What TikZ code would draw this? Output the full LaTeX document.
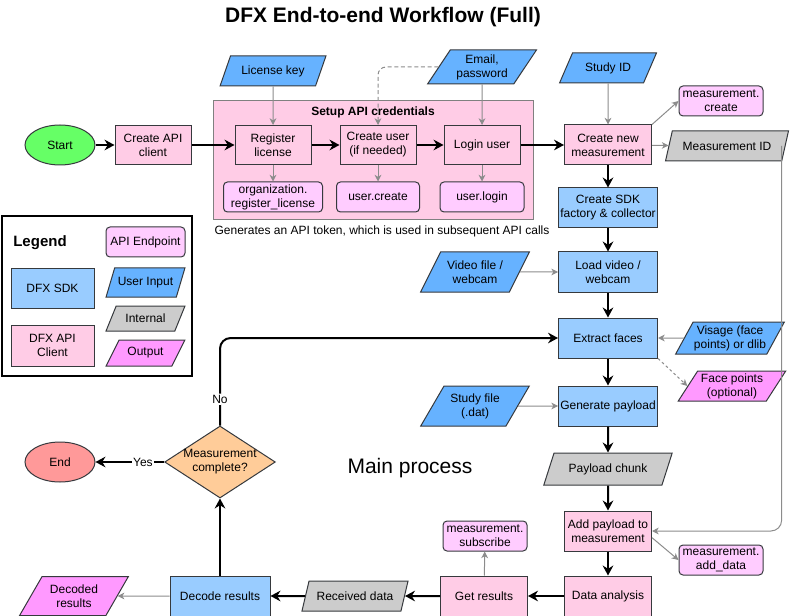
\documentclass[tikz,border=0pt]{standalone}
\usepackage{fontspec}
\setmainfont{Liberation Sans}
\usetikzlibrary{shapes.geometric,arrows.meta}

\definecolor{clientpink}{HTML}{FFCCE6}
\definecolor{endpointpink}{HTML}{FFCCFF}
\definecolor{sdkblue}{HTML}{99CCFF}
\definecolor{inputblue}{HTML}{66B2FF}
\definecolor{internalgray}{HTML}{CCCCCC}
\definecolor{outputmagenta}{HTML}{FF99FF}
\definecolor{startgreen}{HTML}{66FF66}
\definecolor{endred}{HTML}{FF9999}
\definecolor{decisionorange}{HTML}{FFCC99}
\definecolor{edgegray}{HTML}{36393D}
\definecolor{linkgray}{HTML}{8C8C8C}

\tikzset{
  base/.style={draw=edgegray, line width=0.75pt, font=\fontsize{9}{10.5}\selectfont, align=center, inner sep=1pt},
  client/.style={base, rectangle, fill=clientpink, minimum width=57pt, minimum height=29.25pt},
  sdk/.style={base, rectangle, fill=sdkblue, minimum width=74.25pt, minimum height=30pt},
  endpoint/.style={base, rectangle, rounded corners=3pt, fill=endpointpink, minimum width=63pt, minimum height=22.5pt},
  datashape/.style={base, trapezium, trapezium left angle=60, trapezium right angle=120, trapezium stretches=true,
    inner xsep=-4pt, inner ysep=0pt, minimum width=81.75pt, minimum height=22.5pt},
  inputdata/.style={datashape, fill=inputblue},
  internaldata/.style={datashape, fill=internalgray},
  outputdata/.style={datashape, fill=outputmagenta},
  terminal/.style={base, ellipse, minimum width=52.5pt, minimum height=30pt},
  flow/.style={line width=1.5pt, -{Stealth[length=7.5pt,width=8pt,inset=2.5pt]}},
  link/.style={draw=linkgray, line width=0.75pt, -{Stealth[length=5pt,width=5pt,inset=1.5pt]}},
  answer/.style={font=\fontsize{9}{10.5}\selectfont, fill=white, inner sep=1pt},
}

\begin{document}
\begin{tikzpicture}[x=0.75pt, y=-0.75pt]
\useasboundingbox (0,0) rectangle (791,616);

\node[font=\bfseries\fontsize{15.75}{18}\selectfont] (title) at (383,17) {DFX End-to-end Workflow (Full)};

% legend
\node[draw, line width=1.5pt, fill=white, minimum width=142.5pt, minimum height=120pt] (legend) at (97,296) {};
\node[font=\bfseries\fontsize{11.25}{13}\selectfont] (legendtitle) at (40,243) {Legend};
\node[endpoint, minimum width=59.25pt] (keyendpoint) at (145.5,242) {API Endpoint};
\node[sdk, minimum width=62.25pt, minimum height=29.25pt] (keysdk) at (52.5,288.5) {DFX SDK};
\node[inputdata, minimum width=59.25pt, minimum height=21.75pt] (keyinput) at (145.5,282.5) {User Input};
\node[internaldata, minimum width=59.25pt, minimum height=18.75pt] (keyinternal) at (145.5,318.5) {Internal};
\node[client, minimum width=62.25pt, minimum height=30.75pt] (keyclient) at (52.5,345.5) {DFX API\\Client};
\node[outputdata, minimum width=59.25pt, minimum height=19.5pt] (keyoutput) at (145.5,353) {Output};

% credentials group
\node[draw=gray, line width=0.75pt, fill=clientpink, minimum width=240pt, minimum height=89.25pt] (creds) at (373,160.5) {};
\node[font=\bfseries\fontsize{9}{10.5}\selectfont] (credstitle) at (373,112) {Setup API credentials};
\node[font=\fontsize{9}{10.5}\selectfont] (tokennote) at (382,231) {Generates an API token, which is used in subsequent API calls};

\node[terminal, fill=startgreen] (start) at (60,145) {Start};
\node[client] (apiclient) at (153,145) {Create API\\client};
\node[client] (register) at (273,145) {Register\\license};
\node[client] (createuser) at (378,145) {Create user\\(if needed)};
\node[client] (login) at (482,145) {Login user};
\node[client, minimum width=65.25pt, minimum height=30pt] (newmeas) at (608,145) {Create new\\measurement};

\node[inputdata, minimum width=79.5pt] (licensekey) at (273,71) {License key};
\node[inputdata, minimum height=25.5pt] (email) at (482,67) {Email,\\password};
\node[inputdata, minimum width=72.75pt] (studyid) at (608,68) {Study ID};

\node[endpoint, minimum width=74.25pt] (orgreg) at (273,197) {organization.\\register\_license};
\node[endpoint, minimum width=62.25pt] (usercreate) at (378,197) {user.create};
\node[endpoint] (userlogin) at (482,197) {user.login};
\node[endpoint] (meascreate) at (721,101) {measurement.\\create};
\node[internaldata, minimum width=92.25pt] (measid) at (727,146) {Measurement ID};

\node[sdk] (factory) at (608,208) {Create SDK\\factory \& collector};
\node[sdk] (loadvideo) at (608,272) {Load video /\\webcam};
\node[inputdata, minimum height=30pt] (videofile) at (475,272) {Video file /\\webcam};
\node[sdk] (extract) at (608,338) {Extract faces};
\node[inputdata, minimum height=24pt] (visage) at (730,338) {Visage (face\\points) or dlib};
\node[outputdata, minimum width=81pt] (facepoints) at (732,386) {Face points\\(optional)};
\node[sdk] (generate) at (608,406) {Generate payload};
\node[inputdata, minimum height=30pt] (studyfile) at (475,406) {Study file\\(.dat)};
\node[internaldata, minimum width=96.75pt, minimum height=24pt] (chunk) at (608,469) {Payload chunk};
\node[client, minimum width=65.25pt, minimum height=30pt] (addpayload) at (608,531) {Add payload to\\measurement};
\node[endpoint] (adddata) at (721,560) {measurement.\\add\_data};
\node[client, minimum width=65.25pt, minimum height=30pt] (analysis) at (608,596) {Data analysis};
\node[client, minimum width=65.25pt, minimum height=30pt] (getresults) at (484,596) {Get results};
\node[endpoint] (subscribe) at (485,536) {measurement.\\subscribe};
\node[internaldata, minimum width=80pt] (received) at (355,596) {Received data};
\node[sdk, minimum width=75pt] (decode) at (220,596) {Decode results};
\node[outputdata, minimum height=29.25pt] (decoded) at (74,596) {Decoded\\results};

\node[base, diamond, fill=decisionorange, inner sep=-5pt, shape aspect=1.54, minimum width=83pt, minimum height=54pt] (done) at (220,462) {Measurement\\complete?};
\node[terminal, fill=endred] (endnode) at (60,462) {End};

\node[font=\fontsize{15.75}{18}\selectfont] (mainprocess) at (410,468) {Main process};

% main flow
\draw[flow] (start) -- (apiclient);
\draw[flow] (apiclient) -- (register);
\draw[flow] (register) -- (createuser);
\draw[flow] (createuser) -- (login);
\draw[flow] (login) -- (newmeas);
\draw[flow] (newmeas) -- (factory);
\draw[flow] (factory) -- (loadvideo);
\draw[flow] (loadvideo) -- (extract);
\draw[flow] (extract) -- (generate);
\draw[flow] (generate) -- (chunk);
\draw[flow] (chunk) -- (addpayload);
\draw[flow] (addpayload) -- (analysis);
\draw[flow] (analysis) -- (getresults);
\draw[flow] (getresults) -- (received);
\draw[flow] (received) -- (decode);
\draw[flow] (decode) -- (done);
\draw[flow] (done) -- node[answer, pos=0.31] (yeslabel) {Yes} (endnode);
\draw[flow, rounded corners=8pt] (done.north) |- node[answer, pos=0.15] (nolabel) {No} (extract.west);

% inputs and api calls
\draw[link] (licensekey) -- (register);
\draw[link] (register) -- (orgreg);
\draw[link] (createuser) -- (usercreate);
\draw[link] (email) -- (login);
\draw[link, dash pattern=on 3pt off 2pt, rounded corners=6pt] (email.west) -| (createuser.north);
\draw[link] (login) -- (userlogin);
\draw[link] (studyid) -- (newmeas);
\draw[link] (newmeas.north east) -- (meascreate.west);
\draw[link] (newmeas) -- (measid);
\draw[link, rounded corners=8pt] ([xshift=-3pt]measid.east) |- (addpayload.east);
\draw[link] (videofile) -- (loadvideo);
\draw[link] (visage) -- (extract);
\draw[link, dash pattern=on 2pt off 2pt] (extract.south east) -- (facepoints.west);
\draw[link] (studyfile) -- (generate);
\draw[link] ([yshift=-5pt]addpayload.east) -- (adddata.west);
\draw[link] (getresults) -- (subscribe);
\draw[link] (decode) -- (decoded);
\end{tikzpicture}
\end{document}
